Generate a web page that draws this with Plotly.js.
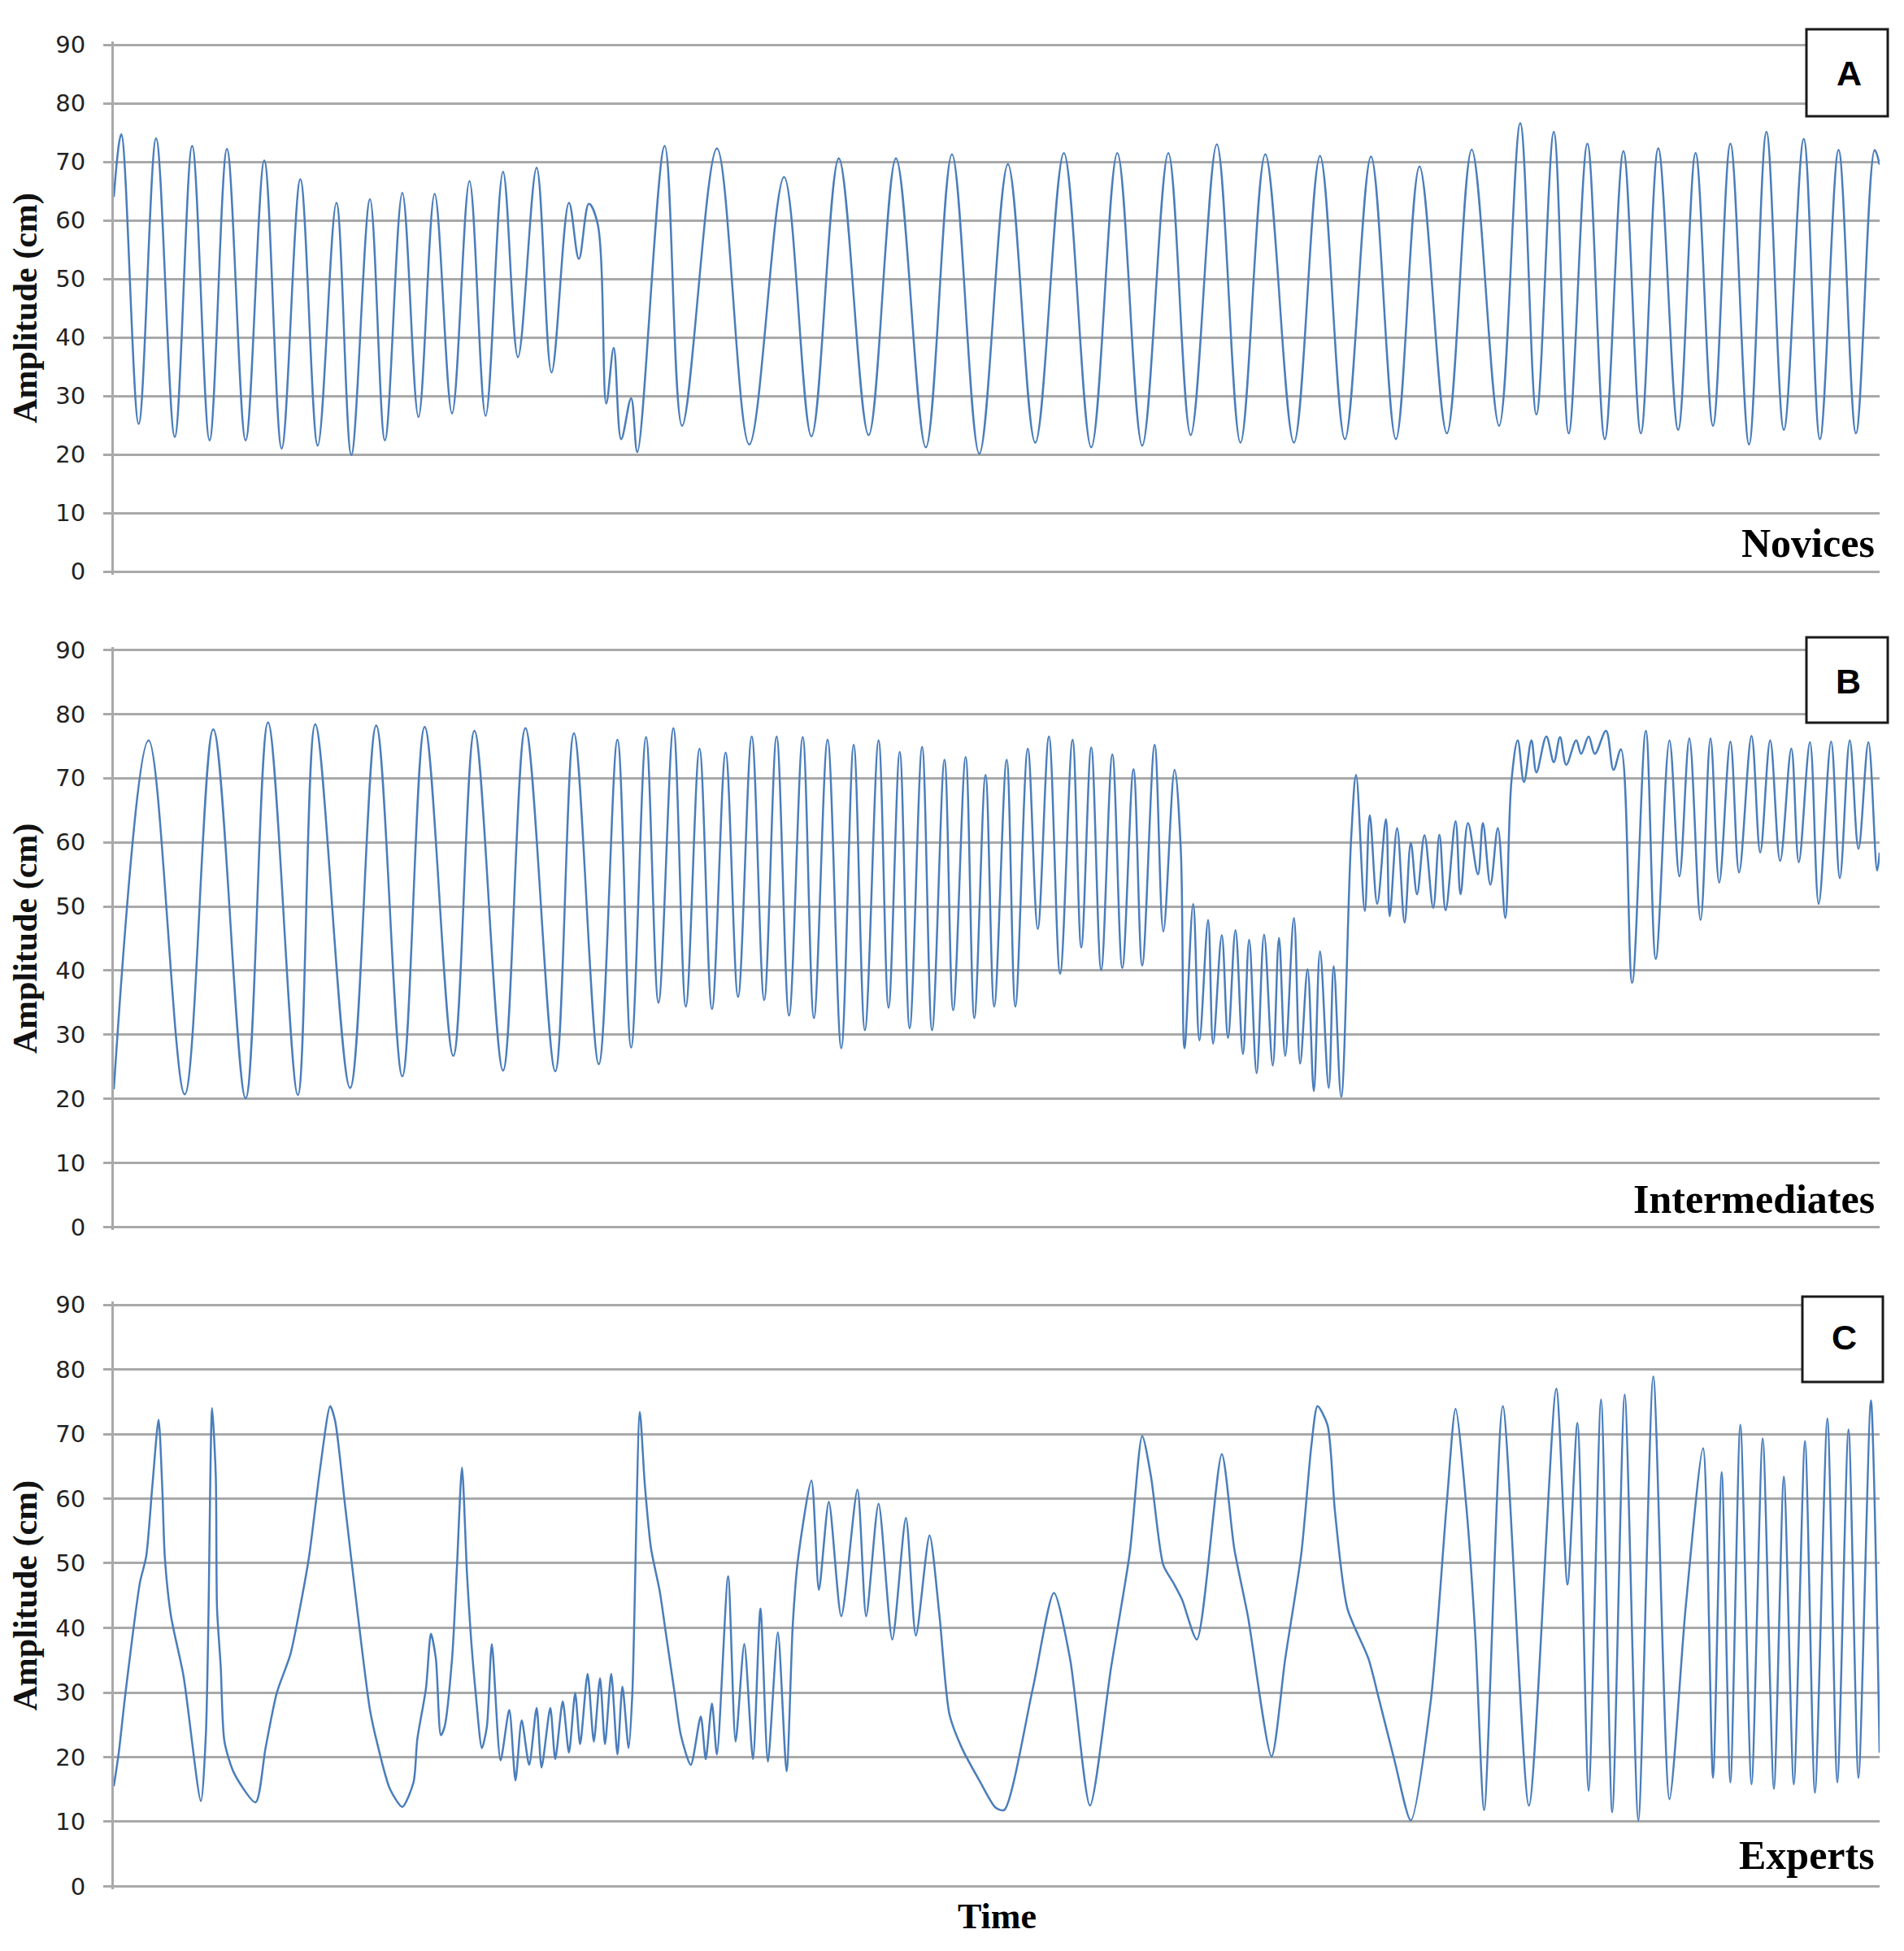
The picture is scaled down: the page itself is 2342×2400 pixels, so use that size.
<!DOCTYPE html>
<html>
<head>
<meta charset="utf-8">
<script src="https://cdn.plot.ly/plotly-3.0.1.min.js"></script>
<style>
  html, body { margin: 0; padding: 0; background: #fff; }
  #chart { width: 2342px; height: 2400px; }
</style>
</head>
<body>
<div id="chart"></div>
<script>
// turning points (time in arbitrary units, amplitude in cm)
var novicesTime = [0, 6, 20, 34, 49, 63, 77, 91, 106, 121, 135, 150, 164, 179, 191, 206, 218, 232, 245, 258,
  272, 286, 299, 313, 325, 340, 352, 366, 374, 382, 389, 396, 402, 408, 416, 421, 443, 457, 485, 511,
  539, 561, 583, 607, 629, 653, 674, 696, 719, 741, 764, 786, 807, 827, 848, 866, 887, 906, 926, 949,
  970, 990, 1011, 1031, 1050, 1072, 1092, 1114, 1131, 1144, 1158, 1170, 1185, 1199, 1214, 1228, 1242, 1258, 1272, 1286,
  1300, 1315, 1329, 1343, 1359, 1372, 1387, 1401, 1416, 1420];
var novicesAmp = [64, 74.7, 25.2, 74, 23, 72.7, 22.4, 72.2, 22.4, 70.2, 21, 67, 21.5, 63, 19.9, 63.6, 22.4, 64.7, 26.4, 64.5,
  27, 66.7, 26.6, 68.3, 36.6, 69, 34, 63, 53.4, 62.8, 59.5, 28.7, 38.2, 22.6, 29.6, 20.4, 72.7, 24.9, 72.3, 21.7,
  67.4, 23.1, 70.6, 23.3, 70.6, 21.2, 71.3, 20.1, 69.6, 22, 71.5, 21.2, 71.5, 21.5, 71.5, 23.3, 73, 22, 71.3, 22,
  71, 22.6, 70.9, 22.6, 69.2, 23.6, 72.1, 24.9, 76.6, 26.8, 75.1, 23.6, 73.1, 22.6, 71.8, 23.6, 72.3, 24.2, 71.5, 24.9,
  73.1, 21.7, 75.1, 24.2, 73.9, 22.6, 72, 23.6, 72, 69.5];

var intermediatesTime = [0, 28, 57, 80, 106, 124, 148, 162, 190, 211, 232, 250, 273, 290, 313, 331, 355, 370, 390, 405,
  416, 428, 438, 450, 460, 471, 481, 492, 502, 513, 523, 533, 543, 554, 563, 574, 585, 595, 604, 615,
  623, 632, 640, 650, 658, 668, 675, 685, 692, 701, 708, 718, 725, 735, 743, 752, 761, 771, 778, 786,
  794, 803, 811, 820, 827, 837, 844, 853, 858, 861, 868, 873, 880, 884, 891, 896, 902, 908, 913, 919,
  925, 932, 937, 942, 949, 954, 960, 965, 970, 977, 981, 987, 995, 999, 1006, 1010, 1016, 1023, 1026, 1032,
  1038, 1043, 1048, 1054, 1061, 1066, 1071, 1079, 1083, 1089, 1097, 1101, 1107, 1113, 1119, 1124, 1129, 1134, 1140, 1144,
  1152, 1158, 1163, 1168, 1176, 1180, 1186, 1191, 1200, 1206, 1212, 1221, 1232, 1240, 1251, 1259, 1267, 1276, 1284, 1291,
  1300, 1307, 1317, 1324, 1332, 1340, 1349, 1355, 1364, 1371, 1381, 1388, 1396, 1403, 1411, 1418, 1420];
var intermediatesAmp = [21.5, 75.9, 20.7, 77.6, 20.1, 78.7, 20.6, 78.4, 21.7, 78.2, 23.5, 78, 26.7, 77.4, 24.4, 77.8, 24.3, 77, 25.4, 76,
  28, 76.4, 35, 77.8, 34.4, 74.6, 34, 74, 35.9, 76.5, 35.4, 76.5, 33, 76.4, 32.6, 76, 27.9, 75.2, 30.7, 75.9,
  34.2, 74.1, 31, 74.9, 30.7, 72.9, 33.8, 73.3, 32.6, 70.5, 34.4, 72.9, 34.4, 74.6, 46.5, 76.5, 39.5, 76, 43.6, 74.8,
  40.1, 73.7, 40.4, 71.4, 40.8, 75.2, 46.1, 71.3, 59, 27.9, 50.4, 29.1, 47.9, 28.6, 45.5, 29.5, 46.3, 27, 44.8, 24,
  45.6, 25.2, 45.1, 26.7, 48.2, 25.5, 40.2, 21.2, 43, 21.7, 40.7, 20.3, 60.5, 70.5, 49.3, 64.2, 50.4, 63.6, 48.5, 62.2,
  47.5, 59.9, 51.9, 61.1, 49.8, 61.2, 49.4, 63.3, 51.9, 63, 55, 63, 53.4, 62.2, 48.2, 69.7, 75.9, 69.4, 75.9, 70.9,
  76.5, 72.5, 76.4, 72.1, 75.9, 73.8, 76.5, 73.8, 77.4, 71.3, 74.5, 38.1, 77.4, 41.8, 75.9, 54.7, 76.2, 47.9, 76.2, 53.7,
  75.7, 55.3, 76.6, 58.4, 75.9, 57.1, 74.6, 56.9, 75.6, 50.4, 75.7, 54.4, 75.9, 59, 75.6, 55.6, 58.4];

var expertsTime = [0, 4, 9, 21, 26, 31, 36, 39, 41, 46, 56, 70, 74, 76, 79, 82, 83, 86, 89, 97,
  114, 122, 131, 142, 149, 157, 166, 174, 178, 186, 196, 206, 212, 222, 232, 241, 244, 251, 255, 259,
  263, 266, 272, 276, 280, 284, 287, 291, 296, 300, 304, 311, 318, 323, 328, 334, 340, 344, 351, 355,
  361, 366, 371, 375, 381, 386, 391, 395, 400, 405, 409, 414, 417, 423, 427, 432, 439, 444, 451, 456,
  464, 472, 476, 481, 485, 494, 500, 507, 514, 520, 526, 534, 541, 546, 550, 561, 567, 575, 585, 598,
  605, 615, 626, 637, 645, 656, 664, 672, 682, 696, 709, 716, 739, 756, 769, 785, 802, 817, 827, 834,
  844, 852, 859, 871, 891, 901, 912, 931, 942, 955, 963, 968, 976, 982, 992, 1009, 1017, 1030, 1043, 1059,
  1072, 1079, 1088, 1095, 1102, 1117, 1138, 1160, 1169, 1177, 1186, 1196, 1205, 1215, 1226, 1238, 1251, 1264, 1278, 1286,
  1293, 1300, 1308, 1317, 1326, 1335, 1343, 1351, 1360, 1368, 1378, 1386, 1395, 1403, 1413, 1420];
var expertsAmp = [15.5, 20.7, 29.3, 47, 51, 62, 72.2, 61.5, 51, 41.8, 32.6, 13.2, 23.4, 40.5, 74, 63.5, 43.1, 33.9, 22.4, 17.4,
  13, 21.4, 29.9, 35.9, 42.4, 51, 64.8, 74.3, 72, 58.9, 42.4, 27.3, 22, 15.1, 12.3, 16.1, 22.7, 30.6, 39.1, 35.2,
  23.4, 24.7, 35.2, 49.7, 64.8, 48.4, 39.1, 29.9, 21.4, 24.7, 37.5, 19.5, 27.3, 16.4, 25.7, 18.8, 27.6, 18.4, 27.6, 19.7,
  28.6, 20.7, 29.9, 22, 32.9, 22.4, 32.2, 22, 32.9, 20.4, 30.9, 21.4, 29.9, 73.4, 62.2, 52.3, 45.7, 39.1, 29.9, 23.4,
  18.8, 26.3, 19.7, 28.3, 20.4, 48, 22.4, 37.5, 19.7, 43, 19.3, 39.3, 17.8, 40.5, 50.3, 62.8, 45.9, 59.5, 41.8, 61.4,
  41.8, 59.2, 38.2, 57, 38.8, 54.3, 41.8, 26.6, 21.4, 16.4, 12.2, 11.8, 30.6, 45.4, 35.2, 12.5, 33.9, 51.6, 69.7, 63.5,
  49.7, 47, 44.4, 38.2, 66.9, 52.3, 41.8, 20.1, 35.2, 51.6, 68.1, 74.3, 71.4, 58, 43, 35.2, 29.3, 19.4, 10.2, 28.6,
  59.5, 73.9, 58, 38.4, 11.8, 74.3, 12.5, 77, 46.7, 71.7, 14.8, 75.3, 11.5, 76.1, 10.2, 78.9, 13.5, 43.1, 67.8, 16.8,
  64.1, 16.1, 71.4, 15.8, 69.3, 15.1, 63.4, 15.8, 68.9, 14.5, 72.4, 16.1, 70.7, 16.8, 75.2, 20.7];

var yTicks = [0, 10, 20, 30, 40, 50, 60, 70, 80, 90];
var panelLetters = ['A', 'B', 'C'];
var groupNames = ['Novices', 'Intermediates', 'Experts'];

var lineBlue = '#4a7dbb';
var gridGrey = '#a9a9a9';
var serif = '"Liberation Serif", "Times New Roman", serif';

// panel geometry in page pixels (90 line, 0 line)
var W = 2342, H = 2400;
var plotLeft = 140, plotRight = 2312;
var panelTop = [55, 799.5, 1605];
var panelBottom = [703, 1509.5, 2320.5];
var pad = 0.5; // a little room so the 0 and 90 grid lines are still drawn
var boxes = [
  {x0: 2222, x1: 2322, y0: 36, y1: 143, cx: 2274, cy: 90},
  {x0: 2222, x1: 2322, y0: 784, y1: 889, cx: 2273, cy: 838},
  {x0: 2217, x1: 2316, y0: 1595, y1: 1700, cx: 2268, cy: 1645}
];
var groupLabelY = [668, 1475, 2282];

function px(x) { return x / W; }
function py(y) { return 1 - y / H; }

var series = [
  [novicesTime, novicesAmp, 1],
  [intermediatesTime, intermediatesAmp, 1],
  [expertsTime, expertsAmp, 0.7]
];

var data = [];
var layout = {
  width: W,
  height: H,
  margin: {l: 0, r: 0, t: 0, b: 0},
  paper_bgcolor: '#fff',
  plot_bgcolor: '#fff',
  showlegend: false,
  shapes: [],
  annotations: []
};

for (var i = 0; i < 3; i++) {
  var n = i === 0 ? '' : String(i + 1);
  var unit = (panelBottom[i] - panelTop[i]) / 90;
  data.push({
    type: 'scatter',
    mode: 'lines',
    x: series[i][0],
    y: series[i][1],
    xaxis: 'x' + n,
    yaxis: 'y' + n,
    line: {color: lineBlue, width: 2.5, shape: 'spline', smoothing: series[i][2]},
    hoverinfo: 'skip'
  });

  layout['xaxis' + n] = {
    domain: [px(plotLeft), px(plotRight)],
    range: [0, 1420],
    anchor: 'y' + n,
    showgrid: false,
    zeroline: false,
    showline: false,
    showticklabels: false,
    ticks: '',
    fixedrange: true
  };

  layout['yaxis' + n] = {
    domain: [py(panelBottom[i] + pad * unit), py(panelTop[i] - pad * unit)],
    range: [-pad, 90 + pad],
    anchor: 'x' + n,
    tickmode: 'array',
    tickvals: yTicks,
    ticktext: yTicks.map(String),
    showgrid: true,
    gridcolor: gridGrey,
    gridwidth: 3,
    zeroline: false,
    showline: true,
    linecolor: gridGrey,
    linewidth: 3,
    ticks: 'outside',
    ticklen: 10,
    tickwidth: 3,
    tickcolor: gridGrey,
    ticklabelstandoff: 16,
    tickfont: {family: '"DejaVu Sans", Verdana, sans-serif', size: 29, color: '#222'},
    title: {
      text: 'Amplitude (cm)',
      font: {family: serif, size: 42, color: '#111', weight: 'bold'},
      standoff: 10
    },
    fixedrange: true
  };

  var b = boxes[i];
  layout.shapes.push({
    type: 'rect', xref: 'paper', yref: 'paper',
    x0: px(b.x0), x1: px(b.x1), y0: py(b.y1), y1: py(b.y0),
    fillcolor: '#fff',
    line: {color: '#1a1a1a', width: 3},
    layer: 'above'
  });
  layout.annotations.push({
    xref: 'paper', yref: 'paper',
    x: px(b.cx), y: py(b.cy),
    xanchor: 'center', yanchor: 'middle',
    text: '<b>' + panelLetters[i] + '</b>',
    showarrow: false,
    font: {family: '"Liberation Sans", Arial, sans-serif', size: 43, color: '#000'}
  });
  layout.annotations.push({
    xref: 'paper', yref: 'paper',
    x: px(2308), y: py(groupLabelY[i]),
    xanchor: 'right', yanchor: 'middle',
    text: '<b>' + groupNames[i] + '</b>',
    showarrow: false,
    font: {family: serif, size: 50, color: '#000'}
  });
}

layout.annotations.push({
  xref: 'paper', yref: 'paper',
  x: px((plotLeft + plotRight) / 2), y: py(2357),
  xanchor: 'center', yanchor: 'middle',
  text: '<b>Time</b>',
  showarrow: false,
  font: {family: serif, size: 44, color: '#000'}
});

Plotly.newPlot('chart', data, layout, {staticPlot: true, displayModeBar: false});
</script>
</body>
</html>
